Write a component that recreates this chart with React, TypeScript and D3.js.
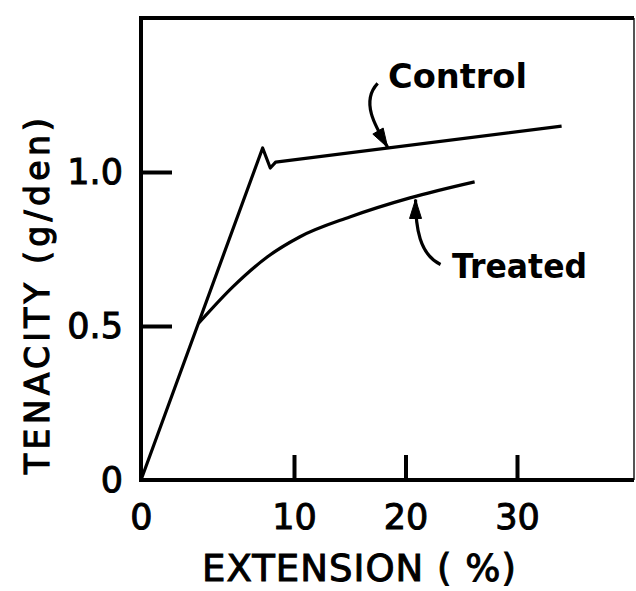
import React, { useEffect, useRef } from "react";
import * as d3 from "d3";

// values
const X_TICKS = [0, 10, 20, 30];
const Y_TICKS = [0, 0.5, 1.0];
const Y_TICK_LABELS = ["0", "0.5", "1.0"];

const CONTROL_EXT = [0, 7.95, 8.45, 8.8, 34];
const CONTROL_TEN = [0, 1.078, 1.013, 1.032, 1.149];

const TREATED_EXT = [0, 3.75, 6.0, 8.25, 10.5, 15.0, 20.4, 26.2];
const TREATED_TEN = [0, 0.508, 0.627, 0.724, 0.789, 0.854, 0.916, 0.968];

const width = 636;
const height = 591;
const frame = { left: 141, top: 18, right: 634, bottom: 480 };
const FONT = "'DejaVu Sans', sans-serif";

const App = () => {
  const ref = useRef<SVGSVGElement | null>(null);

  useEffect(() => {
    const svg = d3.select(ref.current);
    svg.selectAll("*").remove();

    // the original axis is hand drawn: 0-10 is wider than 10-20, 20-30
    const x = d3.scaleLinear().domain([0, 10, 30]).range([frame.left, frame.left + 153, frame.left + 376]);
    const y = d3.scaleLinear().domain([0, 1]).range([frame.bottom, frame.bottom - 308]);

    svg.append("rect").attr("width", width).attr("height", height).attr("fill", "#fff");

    // frame
    svg.append("line").attr("x1", frame.right).attr("x2", frame.right).attr("y1", frame.top).attr("y2", frame.bottom)
      .attr("stroke", "#555").attr("stroke-width", 2);
    svg.append("path")
      .attr("d", `M${frame.right},${frame.top}H${frame.left}V${frame.bottom}H${frame.right}`)
      .attr("fill", "none").attr("stroke", "#000").attr("stroke-width", 4);

    // axes, ticks pointing inward
    const xAxis = svg.append("g").attr("transform", `translate(0,${frame.bottom})`)
      .call(d3.axisBottom(x).tickValues(X_TICKS).tickFormat(d3.format("d")).tickSize(-25).tickPadding(24));
    const yAxis = svg.append("g").attr("transform", `translate(${frame.left},0)`)
      .call(d3.axisLeft(y).tickValues(Y_TICKS).tickFormat((d, i) => Y_TICK_LABELS[i]).tickSize(-31).tickPadding(18));

    [xAxis, yAxis].forEach(a => {
      a.select(".domain").remove();
      a.attr("font-family", FONT).attr("font-size", 35);
      a.selectAll("line").attr("stroke", "#000").attr("stroke-width", 4);
      a.selectAll("text").attr("fill", "#000").attr("stroke", "#000").attr("stroke-width", 1);
    });
    xAxis.selectAll(".tick").filter((d: any) => d === 0).select("line").remove();
    yAxis.selectAll(".tick").filter((d: any) => d === 0).select("line").remove();

    // axis titles
    svg.append("text")
      .attr("x", 359).attr("y", 581)
      .attr("text-anchor", "middle")
      .attr("font-family", FONT).attr("font-size", 37)
      .attr("stroke", "#000").attr("stroke-width", 1)
      .attr("textLength", 314).attr("lengthAdjust", "spacing")
      .text("EXTENSION ( %)");

    svg.append("text")
      .attr("transform", `translate(49,296) rotate(-90)`)
      .attr("text-anchor", "middle")
      .attr("font-family", FONT).attr("font-size", 33)
      .attr("stroke", "#000").attr("stroke-width", 1.2)
      .attr("textLength", 356).attr("lengthAdjust", "spacing")
      .text("TENACITY (g/den)");

    // curves
    const pts = (ext: number[], ten: number[]) => ext.map((e, i) => [e, ten[i]] as [number, number]);
    const control = pts(CONTROL_EXT, CONTROL_TEN);
    const treated = pts(TREATED_EXT, TREATED_TEN);

    svg.append("path")
      .attr("d", d3.line<[number, number]>().x(d => x(d[0])).y(d => y(d[1]))(control))
      .attr("fill", "none").attr("stroke", "#000").attr("stroke-width", 3.2)
      .attr("stroke-linejoin", "round");

    // the treated curve follows the control line up to ~0.5, then bends away
    svg.append("path")
      .attr("d", d3.line<[number, number]>().x(d => x(d[0])).y(d => y(d[1])).curve(d3.curveMonotoneX)(treated.slice(1)))
      .attr("fill", "none").attr("stroke", "#000").attr("stroke-width", 3.2);

    // annotations with curved arrows
    const controlAt = d3.scaleLinear().domain(CONTROL_EXT).range(CONTROL_TEN);
    const treatedAt = d3.scaleLinear().domain(TREATED_EXT).range(TREATED_TEN);

    const arrow = (tx: number, ty: number, p: number[][]) => {
      const [s, c1, c2] = p;
      svg.append("path")
        .attr("d", `M${tx + s[0]},${ty + s[1]}C${tx + c1[0]},${ty + c1[1]} ${tx + c2[0]},${ty + c2[1]} ${tx},${ty}`)
        .attr("fill", "none").attr("stroke", "#000").attr("stroke-width", 3.2);
      const len = Math.hypot(c2[0], c2[1]);
      const ux = -c2[0] / len, uy = -c2[1] / len;
      const L = 19, W = 6;
      const bx = tx - ux * L, by = ty - uy * L;
      svg.append("path")
        .attr("d", `M${tx},${ty}L${bx - uy * W},${by + ux * W}L${bx + uy * W},${by - ux * W}Z`)
        .attr("fill", "#000").attr("stroke", "#000").attr("stroke-width", 1).attr("stroke-linejoin", "round");
    };

    const cTipX = x(18.4), cTipY = y(controlAt(18.4)) - 1;
    arrow(cTipX, cTipY, [[-10, -64], [-27, -46], [-13, -22]]);
    svg.append("text")
      .attr("x", 388).attr("y", 88)
      .attr("font-family", FONT).attr("font-size", 34).attr("font-weight", "bold")
      .attr("textLength", 139).attr("lengthAdjust", "spacingAndGlyphs")
      .text("Control");

    const tTipX = x(20.9), tTipY = y(treatedAt(20.9)) + 3;
    arrow(tTipX, tTipY, [[25, 65], [4, 55], [0, 28]]);
    svg.append("text")
      .attr("x", 452).attr("y", 278)
      .attr("font-family", FONT).attr("font-size", 34).attr("font-weight", "bold")
      .attr("textLength", 135).attr("lengthAdjust", "spacingAndGlyphs")
      .text("Treated");
  }, []);

  return (
    <svg ref={ref} width={width} height={height}
      style={{ position: "absolute", left: 0, top: 0, display: "block" }} />
  );
};

export default App;
